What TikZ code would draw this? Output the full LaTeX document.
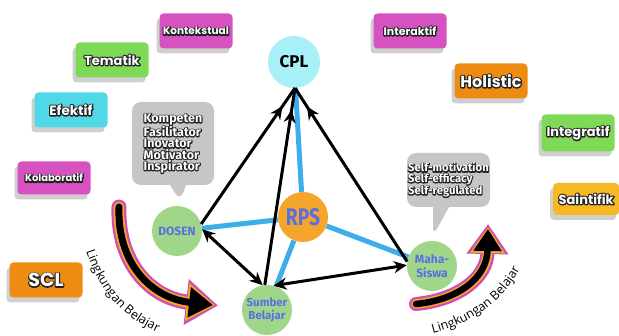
\documentclass[tikz,border=0pt]{standalone}
\usepackage{fontspec}
\usepackage{graphicx}
\setmainfont{Open Sans}
\newfontfamily\tagfont{Poppins}
\newfontfamily\cfont{Fira Sans}
\newfontfamily\lbfont{Open Sans}
\usetikzlibrary{arrows.meta,shadows,decorations.text,decorations.markings,shapes.callouts,backgrounds}

\definecolor{mag}{HTML}{D552C0}
\definecolor{grn}{HTML}{7ED957}
\definecolor{cyn}{HTML}{4FD8E6}
\definecolor{org}{HTML}{EE8C12}
\definecolor{ylw}{HTML}{F6B923}
\definecolor{cplc}{HTML}{A8F0F8}
\definecolor{rpsc}{HTML}{F4A62C}
\definecolor{gc}{HTML}{A0D68A}
\definecolor{tblue}{HTML}{5B6FE2}
\definecolor{lblue}{HTML}{3EAEEA}
\definecolor{bub}{HTML}{C6C6C6}
\definecolor{shd}{HTML}{CFCFCF}
\definecolor{outl}{HTML}{222222}
\definecolor{amag}{HTML}{D04FB5}
\definecolor{aorg}{HTML}{F6A81E}

\newcommand\outl[2][2.4]{{\leavevmode\rlap{\color{outl}\special{pdf:literal 2 Tr #1 w 1 j}#2\special{pdf:literal 0 Tr}}\color{white}#2}}
\newcommand\tg[2]{\tagfont\bfseries\fontsize{#1}{#1}\selectfont\outl{#2}}

\begin{document}
\begin{tikzpicture}[x=1pt,y=-1pt,
  tag/.style={rounded corners=4pt, minimum width=73pt, minimum height=35pt, inner sep=0pt,
    drop shadow={shadow xshift=-3pt,shadow yshift=-5pt,fill=shd,opacity=1}},
  circ/.style={circle, minimum size=50pt, inner sep=0pt, align=center},
  blueln/.style={draw=lblue, line width=5pt},
  bk/.style={draw=black, line width=3pt},
  bkmid/.style={bk, postaction={decorate}, decoration={markings, mark=at position -22pt with {\arrow{Stealth[length=13pt,width=12pt]}}}},
  bkboth/.style={bk, {Stealth[length=13pt,width=12pt]}-{Stealth[length=13pt,width=12pt]}},
  bubble/.style={rectangle callout, fill=bub, rounded corners=9pt, callout pointer width=16pt, inner sep=0pt},
  lbtext/.style={decorate, decoration={text along path, text={|\lbfont\fontsize{12.5}{12.5}\selectfont|Lingkungan Belajar}, text align=center}},
]
\useasboundingbox (0,0) rectangle (619,336);

% tags
\node[tag, fill=mag] (kon) at (196,31) {\tg{10.5}{Kontekstual}};
\node[tag, fill=grn] (tem) at (112,60) {\tg{13}{Tematik}};
\node[tag, fill=cyn] (efe) at (71,110) {\tg{13.5}{Efektif}};
\node[tag, fill=mag, minimum height=33pt] (kol) at (54,178) {\tg{10}{Kolaboratif}};
\node[tag, fill=org] (scl) at (46,280) {\tg{19}{SCL}};
\node[tag, fill=mag] (int) at (410,31) {\tg{11}{Interaktif}};
\node[tag, fill=org] (hol) at (491,81) {\tg{16}{Holistic}};
\node[tag, fill=grn, minimum height=37pt] (itg) at (578,133) {\tg{13}{Integratif}};
\node[tag, fill=ylw, anchor=west, minimum width=66pt, minimum height=32pt] (sai) at (553,199) {\tg{13}{Saintifik}};

% bubbles
\node[bubble, minimum width=82pt, minimum height=83pt, callout absolute pointer={(180,201)},
  align=left, font={\cfont\bfseries\fontsize{12.5}{11.3}\selectfont}] (bd) at (173,143.5)
  {\outl[2]{Kompeten}\\\outl[2]{Fasilitator}\\\outl[2]{Inovator}\\\outl[2]{Motivator}\\\outl[2]{Inspirator}};
\node[bubble, minimum width=83pt, minimum height=54pt, callout absolute pointer={(433,236)},
  align=left, font={\cfont\bfseries\fontsize{11.3}{10.6}\selectfont}] (bm) at (448.5,180)
  {\outl[1.8]{Self-motivation}\\\outl[1.8]{Self-efficacy}\\\outl[1.8]{Self-regulated}};

% circles
\node[circ, fill=cplc, minimum size=52pt, font={\cfont\bfseries\fontsize{17}{17}\selectfont}] (cpl) at (294,62) {CPL};
\node[circ, fill=rpsc, text=tblue, font={\cfont\bfseries\fontsize{24}{24}\selectfont}] (rps) at (303,217) {\scalebox{0.8}[1]{RPS}};
\node[circ, fill=gc, text=tblue, font={\cfont\bfseries\fontsize{12}{12}\selectfont}] (dosen) at (177,231) {DOSEN};
\node[circ, fill=gc, text=tblue, font={\cfont\bfseries\fontsize{11.5}{13}\selectfont}] (sumber) at (267,310) {Sumber\\Belajar};
\node[circ, fill=gc, text=tblue, font={\cfont\bfseries\fontsize{12}{13.5}\selectfont}] (mhs) at (432,266) {Maha-\\Siswa};

\begin{scope}[on background layer]
  \fill[white] (0,0) rectangle (619,336);
  \draw[blueln] (rps) -- (cpl);
  \draw[blueln] (rps) -- (dosen);
  \draw[blueln] (rps) -- (sumber);
  \draw[blueln] (rps) -- (mhs);
\end{scope}

% black arrows
\coordinate (cplb) at (295,88);
\draw[bkmid] (dosen.16) -- (cplb);
\draw[bkmid] (sumber.95) -- (cplb);
\draw[bkmid] (mhs.170) -- (cplb);
\draw[bkboth] (dosen.4) -- (sumber.100);
\draw[bkboth] (sumber.75) -- (mhs.178);

% curved environment arrows
\coordinate (la0) at (119,207);
\coordinate (la1) at (213,305);
\draw[amag, line width=15pt, line cap=round, shorten >=-5pt, -{Triangle[length=32pt,width=44pt]}] (la0) .. controls (117,262) and (150,298) .. (la1);
\draw[aorg, line width=10.5pt, line cap=round, shorten >=-2pt, -{Triangle[length=28pt,width=36pt]}] (la0) .. controls (117,262) and (150,298) .. (la1);
\draw[black, line width=7pt, line cap=round, -{Triangle[length=24pt,width=29pt]}] (la0) .. controls (117,262) and (150,298) .. (la1);

\coordinate (ra0) at (416,304);
\coordinate (ra1) at (488,229);
\draw[amag, line width=14pt, line cap=round, shorten >=-5pt, -{Triangle[length=30pt,width=40pt]}] (ra0) .. controls (458,300) and (487,278) .. (ra1);
\draw[aorg, line width=9.5pt, line cap=round, shorten >=-2pt, -{Triangle[length=26pt,width=33pt]}] (ra0) .. controls (458,300) and (487,278) .. (ra1);
\draw[black, line width=6.5pt, line cap=round, -{Triangle[length=22pt,width=27pt]}] (ra0) .. controls (458,300) and (487,278) .. (ra1);

% curved texts
\path[lbtext] (84,245) .. controls (97,289) and (121,318) .. (164,335);
\path[lbtext] (426,335) .. controls (466,327) and (505,303) .. (523,263);
\end{tikzpicture}
\end{document}
